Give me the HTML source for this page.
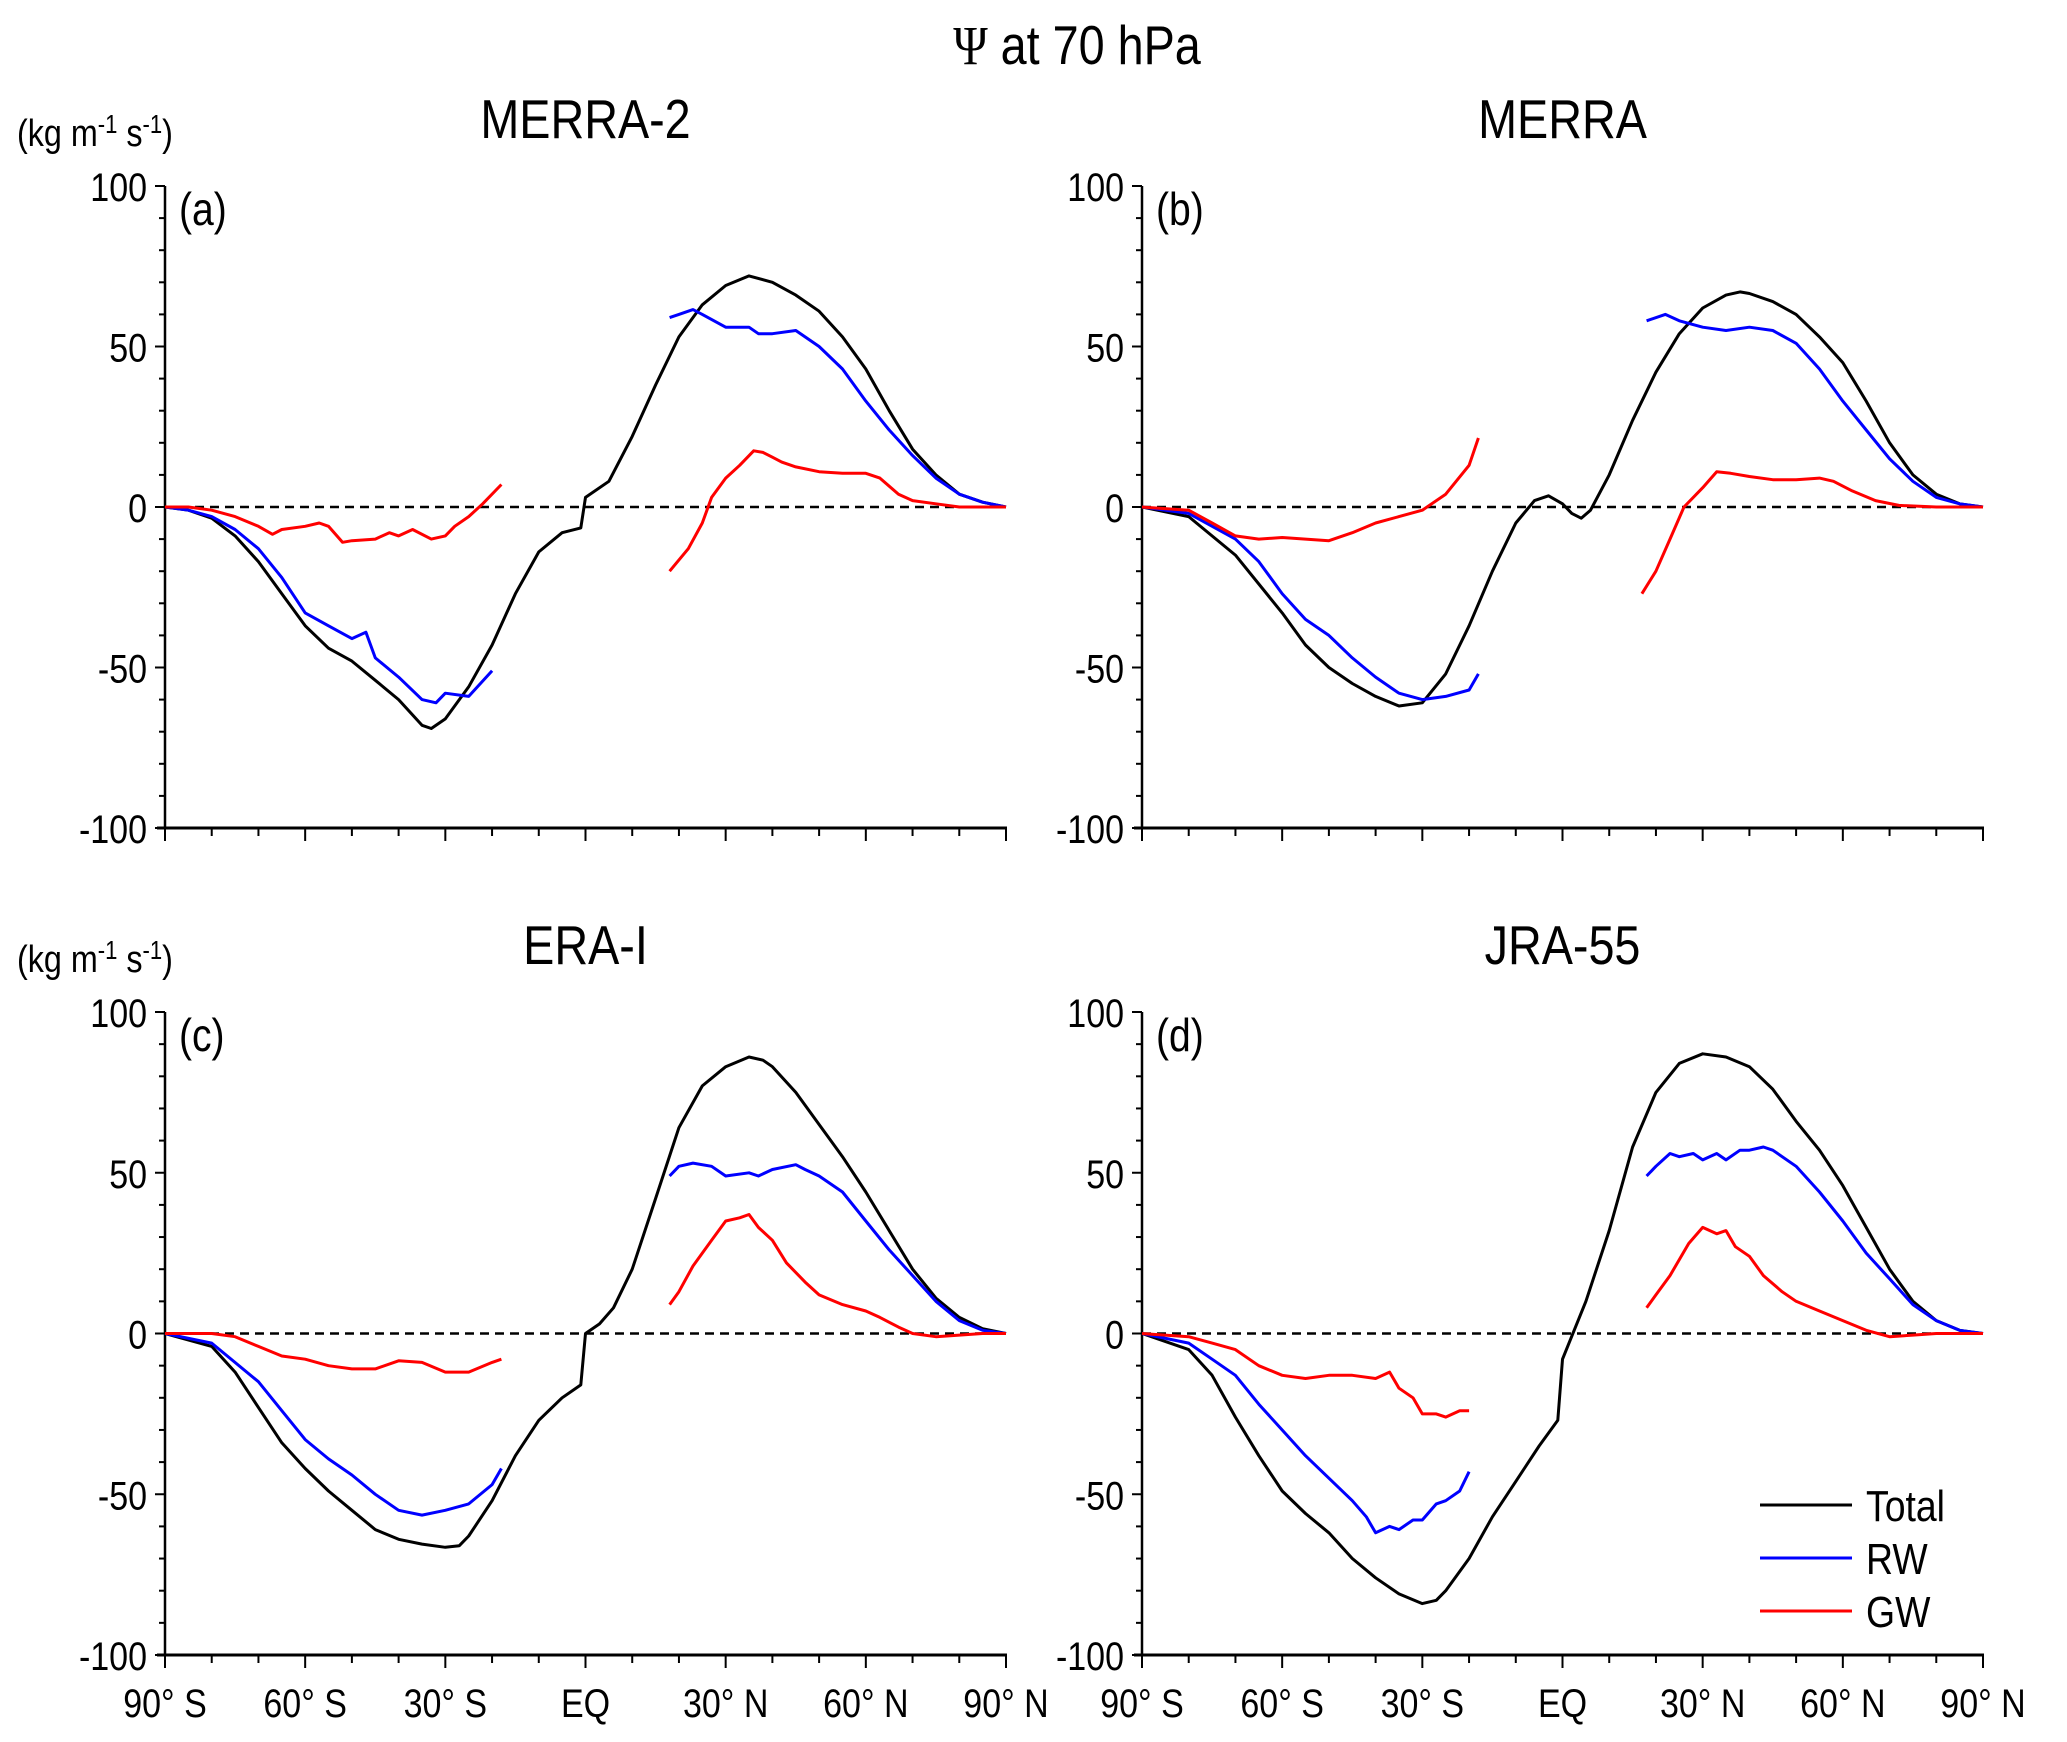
<!DOCTYPE html>
<html><head><meta charset="utf-8"><style>
html,body{margin:0;padding:0;background:#fff;}
svg{display:block;}
text{font-family:"Liberation Sans",sans-serif;fill:#000;}
</style></head><body>
<svg id="fig" width="2067" height="1742" viewBox="0 0 2067 1742" xmlns="http://www.w3.org/2000/svg">
<text transform="translate(1077,64) scale(0.85,1)" text-anchor="middle" font-size="55"><tspan font-family="Liberation Serif,serif">Ψ</tspan>  at 70 hPa</text>
</svg>
<script>
// ---- data (latitude in degrees, Psi in kg m-1 s-1) ----
const xTickLabels = ["90° S","60° S","30° S","EQ","30° N","60° N","90° N"];
const xTickLats = [-90,-60,-30,0,30,60,90];
const yTickVals = [100,50,0,-50,-100];

const aTotLat = [-90,-85,-80,-75,-70,-65,-60,-55,-50,-45,-40,-35,-33,-30,-25,-20,-15,-10,-5,-1,0,5,10,15,20,25,30,35,40,45,50,55,60,65,70,75,80,85,90];
const aTotVal = [0,-1,-3.5,-9,-17,-27,-37,-44,-48,-54,-60,-68,-69,-66,-56,-43,-27,-14,-8,-6.5,3,8,22,38,53,63,69,72,70,66,61,53,43,30,18,10,4,1.5,0];
const aRwLatS = [-90,-85,-80,-75,-70,-65,-60,-55,-50,-47,-45,-40,-35,-32,-30,-25,-20];
const aRwValS = [0,-1,-3,-7,-13,-22,-33,-37,-41,-39,-47,-53,-60,-61,-58,-59,-51];
const aRwLatN = [18,20,23,25,30,35,37,40,45,47,50,55,60,65,70,75,80,85,90];
const aRwValN = [59,60,61.5,60,56,56,54,54,55,53,50,43,33,24,16,9,4,1.5,0];
const aGwLatS = [-90,-85,-80,-75,-70,-67,-65,-60,-57,-55,-52,-50,-45,-42,-40,-37,-33,-30,-28,-25,-22,-18];
const aGwValS = [0,0,-1,-3,-6,-8.5,-7,-6,-5,-6,-11,-10.5,-10,-8,-9,-7,-10,-9,-6,-3,1,7];
const aGwLatN = [18,22,25,27,30,33,36,38,40,42,45,50,55,60,63,67,70,75,80,85,90];
const aGwValN = [-20,-13,-5,3,9,13,17.5,17,15.5,14,12.5,11,10.5,10.5,9,4,2,1,0,0,0];

const bTotLat = [-90,-80,-70,-60,-55,-50,-45,-40,-35,-30,-25,-20,-15,-10,-6,-3,0,2,4,6,10,15,20,25,30,35,38,40,45,50,55,60,65,70,75,80,85,90];
const bTotVal = [0,-3,-15,-33,-43,-50,-55,-59,-62,-61,-52,-37,-20,-5,2,3.5,1,-2,-3.5,-1,10,27,42,54,62,66,67,66.5,64,60,53,45,33,20,10,4,1,0];
const bRwLatS = [-90,-80,-70,-65,-60,-55,-50,-45,-40,-35,-30,-25,-20,-18];
const bRwValS = [0,-2,-10,-17,-27,-35,-40,-47,-53,-58,-60,-59,-57,-52];
const bRwLatN = [18,22,25,30,35,40,45,50,55,60,65,70,75,80,85,90];
const bRwValN = [58,60,58,56,55,56,55,51,43,33,24,15,8,3,1,0];
const bGwLatS = [-90,-80,-75,-70,-65,-60,-55,-50,-45,-40,-35,-30,-25,-20,-18];
const bGwValS = [0,-1,-5,-9,-10,-9.5,-10,-10.5,-8,-5,-3,-1,4,13,21.5];
const bGwLatN = [17,20,23,26,30,33,36,40,45,50,55,58,62,67,72,80,90];
const bGwValN = [-27,-20,-10,0,6,11,10.5,9.5,8.5,8.5,9,8,5,2,0.5,0,0];

const cTotLat = [-90,-80,-75,-70,-65,-60,-55,-50,-45,-40,-35,-30,-27,-25,-20,-15,-10,-5,-1,0,3,6,10,15,20,25,30,35,38,40,45,50,55,60,65,70,75,80,85,90];
const cTotVal = [0,-4,-12,-23,-34,-42,-49,-55,-61,-64,-65.5,-66.5,-66,-63,-52,-38,-27,-20,-16,0,3,8,20,42,64,77,83,86,85,83,75,65,55,44,32,20,11,5,1.5,0];
const cRwLatS = [-90,-80,-70,-65,-60,-55,-50,-45,-40,-35,-30,-25,-20,-18];
const cRwValS = [0,-3,-15,-24,-33,-39,-44,-50,-55,-56.5,-55,-53,-47,-42];
const cRwLatN = [18,20,23,27,30,35,37,40,45,47,50,55,60,65,70,75,80,85,90];
const cRwValN = [49,52,53,52,49,50,49,51,52.5,51,49,44,35,26,18,10,4,1,0];
const cGwLatS = [-90,-80,-75,-70,-65,-60,-55,-50,-45,-40,-35,-30,-25,-20,-18];
const cGwValS = [0,0,-1,-4,-7,-8,-10,-11,-11,-8.5,-9,-12,-12,-9,-8];
const cGwLatN = [18,20,23,27,30,33,35,37,40,43,47,50,55,60,63,67,70,75,80,85,90];
const cGwValN = [9,13,21,29,35,36,37,33,29,22,16,12,9,7,5,2,0,-1,-0.5,0,0];

const dTotLat = [-90,-80,-75,-70,-65,-60,-55,-50,-45,-40,-35,-30,-27,-25,-20,-15,-10,-5,-1,0,5,10,15,20,25,30,35,40,45,50,55,60,65,70,75,80,85,90];
const dTotVal = [0,-5,-13,-26,-38,-49,-56,-62,-70,-76,-81,-84,-83,-80,-70,-57,-46,-35,-27,-8,10,32,58,75,84,87,86,83,76,66,57,46,33,20,10,4,1,0];
const dRwLatS = [-90,-80,-75,-70,-65,-60,-55,-50,-45,-42,-40,-37,-35,-32,-30,-27,-25,-22,-20];
const dRwValS = [0,-3,-8,-13,-22,-30,-38,-45,-52,-57,-62,-60,-61,-58,-58,-53,-52,-49,-43];
const dRwLatN = [18,20,23,25,28,30,33,35,38,40,43,45,50,55,60,65,70,75,80,85,90];
const dRwValN = [49,52,56,55,56,54,56,54,57,57,58,57,52,44,35,25,17,9,4,1,0];
const dGwLatS = [-90,-80,-75,-70,-65,-60,-55,-50,-45,-40,-37,-35,-32,-30,-27,-25,-22,-20];
const dGwValS = [0,-1,-3,-5,-10,-13,-14,-13,-13,-14,-12,-17,-20,-25,-25,-26,-24,-24];
const dGwLatN = [18,20,23,27,30,33,35,37,40,43,47,50,55,60,65,70,75,80,90];
const dGwValN = [8,12,18,28,33,31,32,27,24,18,13,10,7,4,1,-1,-0.5,0,0];

// ---- layout ----
const NS = "http://www.w3.org/2000/svg";
const svg = document.getElementById('fig');
const panels = [
 {id:'a', title:'MERRA-2', x0:165, x1:1006, yT:186, yB:828, units:true, xlabels:false,
  series:[[aTotLat,aTotVal,'#000'],[aRwLatS,aRwValS,'#0000ff'],[aRwLatN,aRwValN,'#0000ff'],[aGwLatS,aGwValS,'#ff0000'],[aGwLatN,aGwValN,'#ff0000']]},
 {id:'b', title:'MERRA', x0:1142, x1:1983, yT:186, yB:828, units:false, xlabels:false,
  series:[[bTotLat,bTotVal,'#000'],[bRwLatS,bRwValS,'#0000ff'],[bRwLatN,bRwValN,'#0000ff'],[bGwLatS,bGwValS,'#ff0000'],[bGwLatN,bGwValN,'#ff0000']]},
 {id:'c', title:'ERA-I', x0:165, x1:1006, yT:1012, yB:1655, units:true, xlabels:true,
  series:[[cTotLat,cTotVal,'#000'],[cRwLatS,cRwValS,'#0000ff'],[cRwLatN,cRwValN,'#0000ff'],[cGwLatS,cGwValS,'#ff0000'],[cGwLatN,cGwValN,'#ff0000']]},
 {id:'d', title:'JRA-55', x0:1142, x1:1983, yT:1012, yB:1655, units:false, xlabels:true,
  series:[[dTotLat,dTotVal,'#000'],[dRwLatS,dRwValS,'#0000ff'],[dRwLatN,dRwValN,'#0000ff'],[dGwLatS,dGwValS,'#ff0000'],[dGwLatN,dGwValN,'#ff0000']]}
];
const seriesNames = ['total','rw-sh','rw-nh','gw-sh','gw-nh'];

function mk(tag, attrs, parent){
  const e = document.createElementNS(NS, tag);
  for (const k in attrs) e.setAttribute(k, attrs[k]);
  (parent||svg).appendChild(e);
  return e;
}

panels.forEach(p=>{
  const g = mk('g',{});
  
  
  const xs = lat => p.x0 + (lat+90)/180*(p.x1-p.x0);
  const ys = v => p.yT + (100-v)/200*(p.yB-p.yT);
  const cx = (p.x0+p.x1)/2;

  const t = mk('text',{transform:`translate(${cx},${p.yT-48}) scale(0.85,1)`,'text-anchor':'middle','font-size':'55'},g);
  t.textContent = p.title;
  
  

  const lab = mk('text',{transform:`translate(${p.x0+14},${p.yT+39}) scale(0.85,1)`,'font-size':'46'},g);
  lab.textContent = '(' + p.id + ')';
  
  

  if (p.units){
    const u = mk('text',{transform:`translate(17,${p.yT-40}) scale(0.85,1)`,'font-size':'38'},g);
    u.innerHTML = '(kg m<tspan dy="-13" font-size="26">-1</tspan><tspan dy="13"> s</tspan><tspan dy="-13" font-size="26">-1</tspan><tspan dy="13">)</tspan>';
    
    
  }

  const z = mk('line',{x1:p.x0,x2:p.x1,y1:ys(0),y2:ys(0),stroke:'#000','stroke-width':2.5,'stroke-dasharray':'9,6'},g);
  
  

  const ya = mk('line',{x1:p.x0,x2:p.x0,y1:p.yT,y2:p.yB,stroke:'#000','stroke-width':2.5},g);
  
  
  const xa = mk('line',{x1:p.x0-8,x2:p.x1+1,y1:p.yB,y2:p.yB,stroke:'#000','stroke-width':3},g);
  
  

  for (let v=-100; v<=100; v+=10){
    const major = v%50===0;
    mk('line',{x1:p.x0-(major?10:6),x2:p.x0,y1:ys(v),y2:ys(v),stroke:'#000','stroke-width':2},g);
  }
  yTickVals.forEach(v=>{
    const tl = mk('text',{transform:`translate(${p.x0-18},${ys(v)+15}) scale(0.85,1)`,'text-anchor':'end','font-size':'40'},g);
    tl.textContent = String(v);
    
    
  });
  for (let la=-90; la<=90; la+=10){
    const major = la%30===0;
    mk('line',{x1:xs(la),x2:xs(la),y1:p.yB,y2:p.yB+(major?13:8),stroke:'#000','stroke-width':2},g);
  }
  if (p.xlabels){
    xTickLabels.forEach((s,i)=>{
      const tl = mk('text',{transform:`translate(${xs(xTickLats[i])},${p.yB+62}) scale(0.85,1)`,'text-anchor':'middle','font-size':'40'},g);
      tl.textContent = s;
      
      
    });
  }

  p.series.forEach((s,i)=>{
    const d = s[0].map((la,k)=>(k?'L':'M')+xs(la).toFixed(1)+','+ys(s[1][k]).toFixed(1)).join(' ');
    const path = mk('path',{d:d,fill:'none',stroke:s[2],'stroke-width':3,'stroke-linejoin':'round'},g);
    
    
  });
});

const legItems = [['Total','#000'],['RW','#0000ff'],['GW','#ff0000']];
const lg = mk('g',{});


legItems.forEach((it,i)=>{
  const y = 1505 + i*53;
  const ln = mk('line',{x1:1760,x2:1852,y1:y,y2:y,stroke:it[1],'stroke-width':3},lg);
  
  
  const tx = mk('text',{transform:`translate(1866,${y+16}) scale(0.85,1)`,'font-size':'44'},lg);
  tx.textContent = it[0];
  
  
});
</script>
</body></html>
